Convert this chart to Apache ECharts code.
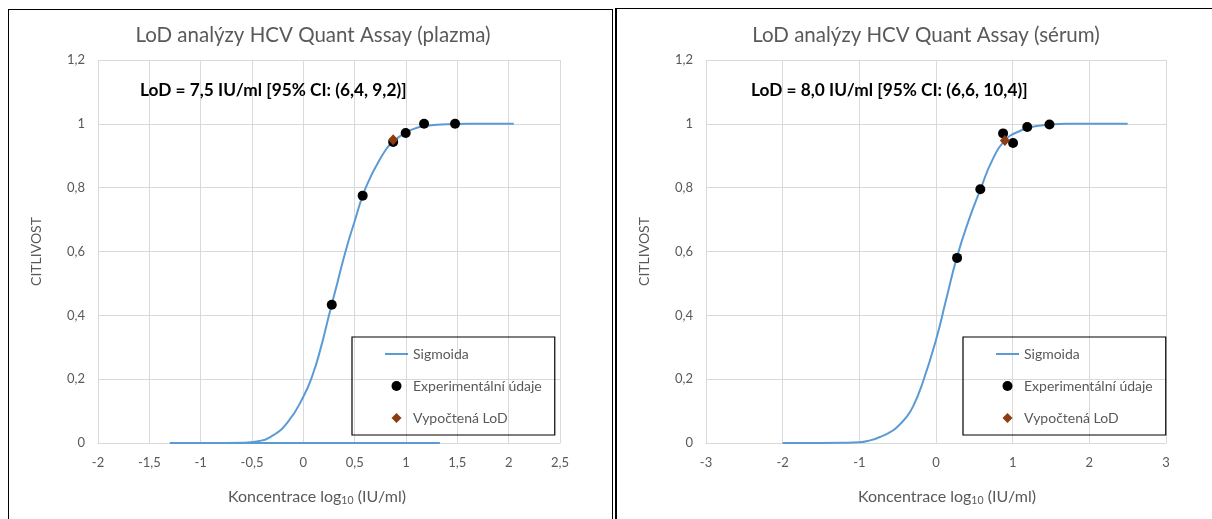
<!DOCTYPE html>
<html>
<head>
<meta charset="utf-8">
<script src="https://cdn.jsdelivr.net/npm/echarts@6/dist/echarts.min.js"></script>
<style>
    html, body { margin: 0; padding: 0; background: #fff; }
    #wrap { position: relative; width: 1212px; height: 519px; overflow: hidden; }
    .panel { position: absolute; border: 1.5px solid #000; box-sizing: border-box; }
    #chart { position: absolute; left: 0; top: 0; width: 1212px; height: 519px; }
</style>
</head>
<body>
<div id="wrap">
    <div class="panel" style="left:8px;top:9px;width:605px;height:540px;"></div>
    <div class="panel" style="left:615px;top:8px;width:620px;height:540px;border-left-width:2px;"></div>
    <div id="chart"></div>
</div>
<script>
// plazma
const plasmaCurveX = [-1.3, -0.9, -0.6, -0.45, -0.3, -0.15, 0, 0.09, 0.17, 0.25, 0.33, 0.415, 0.5, 0.578, 0.65, 0.71, 0.81, 0.88, 1.0, 1.1, 1.2, 1.4, 1.6, 2.05];
const plasmaCurveY = [0, 0, 0.001, 0.005, 0.023, 0.066, 0.145, 0.213, 0.298, 0.4, 0.5, 0.605, 0.695, 0.775, 0.83, 0.868, 0.922, 0.946, 0.973, 0.987, 0.994, 0.999, 1, 1];
const plasmaBaseX = [-1.3, 1.33];
const plasmaBaseY = [0, 0];
const plasmaPointsX = [0.277, 0.578, 0.875, 0.997, 1.176, 1.478];
const plasmaPointsY = [0.433, 0.775, 0.943, 0.971, 1.0, 1.0];
const plasmaLodX = [0.875];
const plasmaLodY = [0.95];

// sérum
const serumCurveX = [-2, -1.5, -1.2, -1, -0.85, -0.74, -0.62, -0.52, -0.4, -0.3, -0.17, 0, 0.13, 0.27, 0.43, 0.58, 0.73, 0.9, 1.08, 1.34, 1.7, 2.5];
const serumCurveY = [0, 0, 0.0005, 0.002, 0.009, 0.018, 0.031, 0.047, 0.077, 0.114, 0.192, 0.323, 0.447, 0.58, 0.7, 0.795, 0.884, 0.948, 0.976, 0.994, 1, 1];
const serumPointsX = [0.275, 0.578, 0.875, 1.005, 1.19, 1.48];
const serumPointsY = [0.58, 0.795, 0.97, 0.94, 0.99, 0.998];
const serumLodX = [0.898];
const serumLodY = [0.948];

const titles = ["LoD analýzy HCV Quant Assay (plazma)", "LoD analýzy HCV Quant Assay (sérum)"];
const lodTexts = ["LoD = 7,5 IU/ml [95% CI: (6,4, 9,2)]", "LoD = 8,0 IU/ml [95% CI: (6,6, 10,4)]"];
const legendNames = ["Sigmoida", "Experimentální údaje", "Vypočtená LoD"];
const yName = "CITLIVOST";
const xName = "Koncentrace log{sub|10} (IU/ml)";

const font = "Lato, 'Open Sans', sans-serif";
const gray = "#595959";
const gridColor = "#d9d9d9";
const lineColor = "#5b9bd5";
const lodColor = "#8b3d0f";

const zip = (xs, ys) => xs.map((x, i) => [x, ys[i]]);
const comma = (v) => String(v).replace(".", ",");

const grids = [
    { left: 98, top: 60, width: 462, height: 383 },
    { left: 706, top: 60, width: 460, height: 383 }
];

const xRanges = [
    { min: -2, max: 2.5, interval: 0.5, namePad: [0, 24, 0, 0] },
    { min: -3, max: 3, interval: 1, namePad: [0, 0, 0, 22] }
];

const makeX = (i) => ({
    type: "value",
    gridIndex: i,
    min: xRanges[i].min,
    max: xRanges[i].max,
    interval: xRanges[i].interval,
    name: xName,
    nameLocation: "middle",
    nameGap: 45,
    nameTextStyle: {
        color: gray, fontFamily: font, fontSize: 16,
        padding: xRanges[i].namePad,
        rich: { sub: { fontSize: 10.5, color: gray, fontFamily: font, padding: [7, 0, 0, 0] } }
    },
    axisLine: { show: true, onZero: false, lineStyle: { color: gridColor, width: 1 } },
    axisTick: { show: false },
    splitLine: { show: true, lineStyle: { color: gridColor, width: 1 } },
    axisLabel: { color: gray, fontFamily: font, fontSize: 13, margin: 13, formatter: comma }
});

const makeY = (i) => ({
    type: "value",
    gridIndex: i,
    min: 0,
    max: 1.2,
    interval: 0.2,
    name: yName,
    nameLocation: "middle",
    nameGap: 55,
    nameTextStyle: { color: gray, fontFamily: font, fontSize: 14 },
    axisLine: { show: false },
    axisTick: { show: false },
    splitLine: { show: true, lineStyle: { color: gridColor, width: 1 } },
    axisLabel: { color: gray, fontFamily: font, fontSize: 13, margin: 13, formatter: (v) => comma(+v.toFixed(1)) }
});

const lineSeries = (i, data) => ({
    name: legendNames[0],
    type: "line",
    xAxisIndex: i,
    yAxisIndex: i,
    data,
    smooth: 0.5,
    symbol: "none",
    lineStyle: { color: lineColor, width: 2 },
    itemStyle: { color: lineColor },
    z: 2
});

const pointSeries = (i, data) => ({
    name: legendNames[1],
    type: "scatter",
    xAxisIndex: i,
    yAxisIndex: i,
    data,
    symbol: "circle",
    symbolSize: 10,
    itemStyle: { color: "#000", opacity: 1 },
    z: 3
});

const lodSeries = (i, data) => ({
    name: legendNames[2],
    type: "scatter",
    xAxisIndex: i,
    yAxisIndex: i,
    data,
    symbol: "diamond",
    symbolSize: [10, 11],
    itemStyle: { color: lodColor, opacity: 1 },
    z: 4
});

const makeLegend = (left) => ({
    left,
    top: 337,
    orient: "vertical",
    data: [
        { name: legendNames[0], icon: "path://M0,0h23v2h-23z" },
        { name: legendNames[1], icon: "circle" },
        { name: legendNames[2], icon: "path://M5,0L10,5L5,10L0,5Z" }
    ],
    itemWidth: 23,
    itemHeight: 10,
    itemGap: 16,
    padding: [9, 13, 9, 33],
    borderColor: "#000",
    borderWidth: 1.2,
    selectedMode: false,
    textStyle: { color: gray, fontFamily: font, fontSize: 14, lineHeight: 16 }
});

const chart = echarts.init(document.getElementById("chart"), null, { renderer: "canvas" });

chart.setOption({
    animation: false,
    title: [
        { text: titles[0], left: 308, top: 20, textAlign: "center", textStyle: { color: gray, fontFamily: font, fontSize: 20.5, fontWeight: "normal" } },
        { text: titles[1], left: 921, top: 20, textAlign: "center", textStyle: { color: gray, fontFamily: font, fontSize: 20.5, fontWeight: "normal" } },
        { text: lodTexts[0], left: 135, top: 77, textStyle: { color: "#000", fontFamily: font, fontSize: 17.3, fontWeight: "bold" } },
        { text: lodTexts[1], left: 746, top: 77, textStyle: { color: "#000", fontFamily: font, fontSize: 17.3, fontWeight: "bold" } }
    ],
    legend: [makeLegend(352), makeLegend(963)],
    grid: grids,
    xAxis: [makeX(0), makeX(1)],
    yAxis: [makeY(0), makeY(1)],
    series: [
        lineSeries(0, zip(plasmaCurveX, plasmaCurveY)),
        lineSeries(0, zip(plasmaBaseX, plasmaBaseY)),
        pointSeries(0, zip(plasmaPointsX, plasmaPointsY)),
        lodSeries(0, zip(plasmaLodX, plasmaLodY)),
        lineSeries(1, zip(serumCurveX, serumCurveY)),
        pointSeries(1, zip(serumPointsX, serumPointsY)),
        lodSeries(1, zip(serumLodX, serumLodY))
    ]
});
</script>
</body>
</html>
